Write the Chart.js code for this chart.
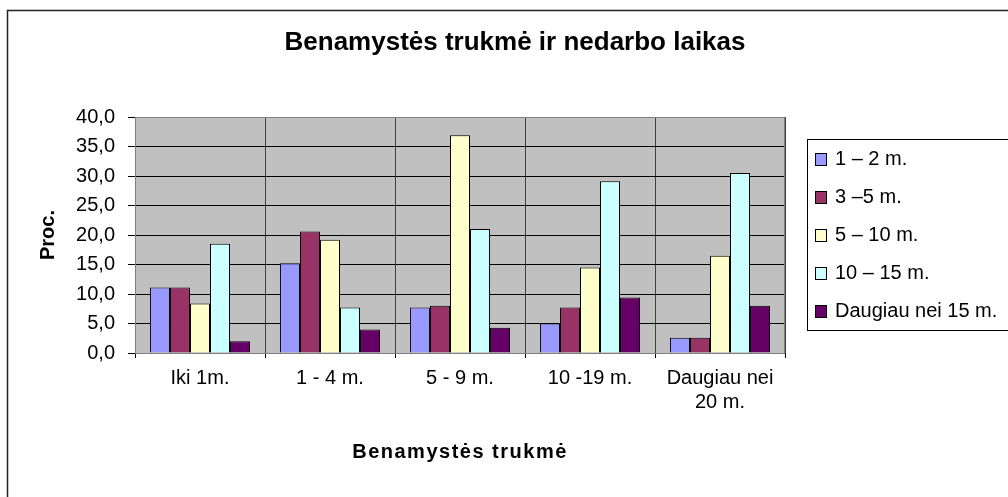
<!DOCTYPE html>
<html lang="lt">
<head>
    <meta charset="UTF-8">
    <title>Benamystės trukmė ir nedarbo laikas</title>
    <style>
        html, body { margin: 0; padding: 0; background: #fff; }
        #wrap { width: 1008px; height: 497px; }
    </style>
    <script src="https://cdn.jsdelivr.net/npm/chart.js"></script>
</head>
<body>
<div id="wrap"><canvas id="grafikas"></canvas></div>

<script>
    const kategorijos = ['Iki 1m.', '1 - 4 m.', '5 - 9 m.', '10 -19 m.', ['Daugiau nei', '20 m.']];
    const serijos = ['1 \u2013 2 m.', '3 \u20135 m.', '5 \u2013 10 m.', '10 \u2013 15 m.', 'Daugiau nei 15 m.'];
    const spalvos = ['#9999FF', '#993366', '#FFFFCC', '#CCFFFF', '#660066'];

    const s1_2 = [11.1, 15.2, 7.7, 5.0, 2.6];
    const s3_5 = [11.1, 20.6, 8.0, 7.7, 2.6];
    const s5_10 = [8.4, 19.2, 36.9, 14.5, 16.5];
    const s10_15 = [18.5, 7.7, 21.0, 29.1, 30.5];
    const sVirs15 = [2.0, 4.0, 4.3, 9.4, 8.0];
    const reiksmes = [s1_2, s3_5, s5_10, s10_15, sVirs15];

    const pavadinimas = 'Benamystės trukmė ir nedarbo laikas';
    const asisX = 'Benamystės trukmė';
    const asisY = 'Proc.';

    const FONT = "'Liberation Sans', Arial, sans-serif";

    // fonas, rėmas, pavadinimas ir legenda
    const remas = {
        id: 'remas',
        beforeDraw(chart) {
            const { ctx, chartArea: a } = chart;
            ctx.save();
            ctx.fillStyle = '#fff';
            ctx.fillRect(0, 0, chart.width, chart.height);
            ctx.fillStyle = '#C0C0C0';
            ctx.fillRect(a.left, a.top, a.right - a.left, a.bottom - a.top);
            ctx.restore();
        },
        afterDraw(chart) {
            const { ctx, chartArea: a } = chart;
            ctx.save();
            // plot area border
            ctx.strokeStyle = '#808080';
            ctx.lineWidth = 1;
            ctx.strokeRect(a.left + 0.5, a.top + 0.5, a.right - a.left - 1, a.bottom - a.top);

            // outer frame
            ctx.strokeStyle = '#222';
            ctx.lineWidth = 1.5;
            ctx.strokeRect(7.5, 10.5, 1200, 700);

            // title
            ctx.fillStyle = '#000';
            ctx.textAlign = 'center';
            ctx.textBaseline = 'middle';
            ctx.font = 'bold 26px ' + FONT;
            ctx.fillText(pavadinimas, 515, 43);

            // x axis title
            ctx.font = 'bold 20px ' + FONT;
            ctx.letterSpacing = '1.5px';
            ctx.fillText(asisX, (a.left + a.right) / 2, 452);
            ctx.letterSpacing = '0px';

            // legend
            ctx.strokeStyle = '#000';
            ctx.lineWidth = 1;
            ctx.strokeRect(807.5, 139.5, 400, 191);
            ctx.textAlign = 'left';
            ctx.font = '20px ' + FONT;
            chart.data.datasets.forEach((ds, i) => {
                const y = 159 + i * 38;
                ctx.fillStyle = ds.backgroundColor;
                ctx.fillRect(815.5, y - 5.5, 11, 12);
                ctx.strokeRect(815.5, y - 5.5, 11, 12);
                ctx.fillStyle = '#000';
                ctx.fillText(ds.label, 835, y);
            });
            ctx.restore();
        }
    };

    new Chart(document.getElementById('grafikas'), {
        type: 'bar',
        data: {
            labels: kategorijos,
            datasets: serijos.map((s, i) => ({
                label: s,
                data: reiksmes[i],
                backgroundColor: spalvos[i],
                borderColor: '#000',
                borderWidth: 1,
                categoryPercentage: 0.77,
                barPercentage: 1.0
            }))
        },
        options: {
            responsive: true,
            maintainAspectRatio: false,
            animation: false,
            layout: { padding: { top: 117, right: 223, bottom: 37, left: 36 } },
            plugins: {
                legend: { display: false },
                title: { display: false },
                tooltip: { enabled: false }
            },
            scales: {
                x: {
                    afterFit: s => { s.height = 107; },
                    grid: { color: '#404040', tickColor: '#000', tickLength: 5, offset: true },
                    border: { color: '#000' },
                    ticks: { color: '#000', padding: 8, font: { family: FONT, size: 20 }, maxRotation: 0 }
                },
                y: {
                    min: 0, max: 40,
                    afterFit: s => { s.width = 99; },
                    grid: { color: '#000', tickColor: '#000', tickLength: 7 },
                    border: { color: '#404040' },
                    ticks: {
                        stepSize: 5, color: '#000', padding: 13,
                        font: { family: FONT, size: 20 },
                        callback: v => v.toFixed(1).replace('.', ',')
                    },
                    title: { display: true, text: asisY, color: '#000', padding: 0, font: { family: FONT, size: 20, weight: 'bold' } }
                }
            }
        },
        plugins: [remas]
    });
</script>
</body>
</html>
